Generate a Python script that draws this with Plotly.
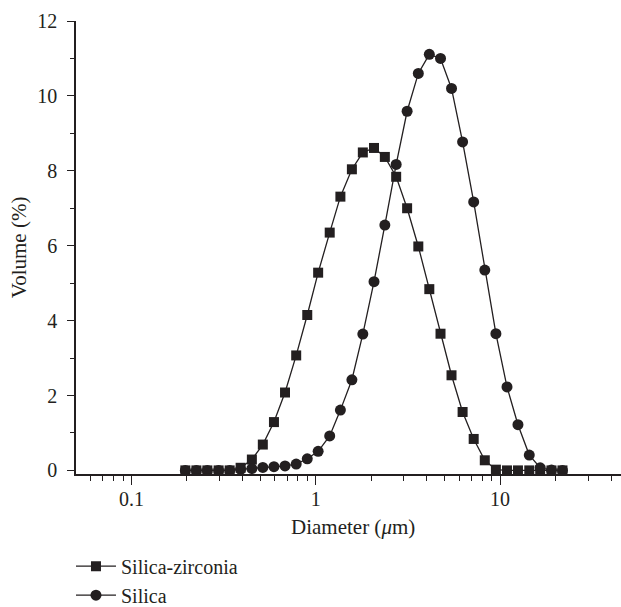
import plotly.graph_objects as go

diameter_um = [0.196, 0.225, 0.258, 0.297, 0.341, 0.391, 0.450, 0.516, 0.593, 0.681,
               0.783, 0.899, 1.03, 1.19, 1.36, 1.57, 1.80, 2.07, 2.37, 2.73,
               3.13, 3.60, 4.13, 4.75, 5.45, 6.26, 7.19, 8.26, 9.49, 10.9,
               12.5, 14.4, 16.5, 19.0, 21.8]

silica_zirconia = [0, 0, 0, 0, 0, 0.07, 0.29, 0.69, 1.29, 2.08,
                   3.07, 4.15, 5.28, 6.35, 7.31, 8.04, 8.49, 8.61, 8.37, 7.84,
                   7.00, 5.98, 4.84, 3.65, 2.54, 1.56, 0.84, 0.27, 0.02, 0,
                   0, 0, 0, 0, 0]

silica = [0, 0, 0, 0, 0, 0.03, 0.05, 0.08, 0.10, 0.12,
          0.17, 0.31, 0.51, 0.92, 1.61, 2.42, 3.64, 5.04, 6.55, 8.17,
          9.59, 10.60, 11.11, 11.00, 10.20, 8.77, 7.17, 5.35, 3.65, 2.23,
          1.22, 0.41, 0.07, 0.01, 0]

x_major = [0.1, 1, 10]
x_major_labels = ["0.1", "1", "10"]
x_minor = [0.06, 0.07, 0.08, 0.09, 0.2, 0.3, 0.4, 0.5, 0.6, 0.7, 0.8, 0.9,
           2, 3, 4, 5, 6, 7, 8, 9, 20, 30, 40]
y_major = [0, 2, 4, 6, 8, 10, 12]
y_minor = [1, 3, 5, 7, 9, 11]

x_title = "Diameter (<i>μ</i>m)"
y_title = "Volume (%)"

INK = "#231f20"
FONT = "Liberation Serif"

fig = go.Figure()
fig.add_trace(go.Scatter(
    x=diameter_um, y=silica_zirconia, name="Silica-zirconia",
    mode="lines+markers",
    line=dict(color=INK, width=1.3),
    marker=dict(symbol="square", size=10, color=INK),
))
fig.add_trace(go.Scatter(
    x=diameter_um, y=silica, name="Silica",
    mode="lines+markers",
    line=dict(color=INK, width=1.3),
    marker=dict(symbol="circle", size=11, color=INK),
))

fig.update_layout(
    width=621, height=607,
    margin=dict(l=76.3, r=0, t=20.7, b=132.7, pad=0, autoexpand=False),
    paper_bgcolor="white", plot_bgcolor="white",
    font=dict(family=FONT, size=20, color=INK),
    showlegend=True,
    legend=dict(
        x=0.1143, y=0.0993, xanchor="left", yanchor="top",
        xref="container", yref="container",
        font=dict(family=FONT, size=20, color=INK),
        itemwidth=40, bgcolor="rgba(0,0,0,0)",
        tracegroupgap=0,
    ),
    annotations=[
        dict(text=x_title, xref="paper", yref="paper", x=0.508, y=-0.116,
             xanchor="center", yanchor="middle", showarrow=False,
             font=dict(family=FONT, size=21, color=INK)),
        dict(text=y_title, xref="paper", yref="paper", x=-0.105, y=0.5,
             xanchor="center", yanchor="middle", showarrow=False, textangle=-90,
             font=dict(family=FONT, size=21, color=INK)),
    ],
)

fig.update_xaxes(
    type="log", range=[-1.3010, 1.656], automargin=False,
    showline=True, linecolor=INK, linewidth=1.5,
    showgrid=False, zeroline=False,
    tickmode="array", tickvals=x_major, ticktext=x_major_labels,
    ticks="outside", ticklen=9, tickwidth=1.3, tickcolor=INK,
    minor=dict(tickmode="array", tickvals=x_minor, ticks="outside",
               ticklen=5, tickwidth=1.2, tickcolor=INK, showgrid=False),
    tickfont=dict(family=FONT, size=20, color=INK),
    ticklabelstandoff=-3,
)

fig.update_yaxes(
    range=[-0.096, 12], automargin=False,
    showline=True, linecolor=INK, linewidth=1.5,
    showgrid=False, zeroline=False,
    tickmode="array", tickvals=y_major,
    ticks="outside", ticklen=7, tickwidth=1.3, tickcolor=INK,
    minor=dict(tickmode="array", tickvals=y_minor, ticks="outside",
               ticklen=4.5, tickwidth=1.2, tickcolor=INK, showgrid=False),
    tickfont=dict(family=FONT, size=20, color=INK),
    ticklabelstandoff=6,
)

# remove the browser's default 8px page margin so the figure fills the window
fig.write_html("out.html", config={"displayModeBar": False},
               post_script="document.body.style.margin='0';")
